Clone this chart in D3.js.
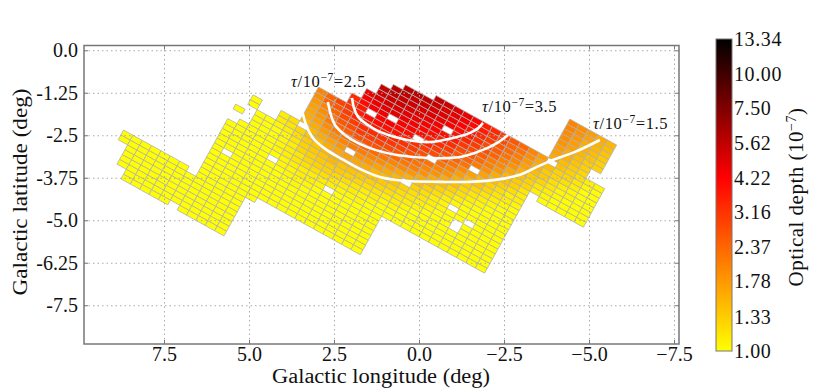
<!DOCTYPE html>
<html>
<head>
<meta charset="utf-8">
<script src="https://cdn.jsdelivr.net/npm/d3@7"></script>
<style>
	html, body { margin: 0; padding: 0; background: #fff; }
	svg { display: block; }
	text { font-family: 'Liberation Serif', serif; fill: #111; }
	.grid line { stroke: #aaa; stroke-dasharray: 1.5 3; }
	.grid path { display: none; }
	.marks line { stroke: #777; }
	.marks path { display: none; }
	.tick-labels text { font-size: 20px; }
	.bar-labels text { font-size: 20px; letter-spacing: 0.6px; }
</style>
</head>
<body>
<div id="canvas"></div>
<script>
// Tick labels
var lonTicks = [7.5, 5.0, 2.5, 0.0, -2.5, -5.0, -7.5],
	latTicks = [0.0, -1.25, -2.5, -3.75, -5.0, -6.25, -7.5],
	latTickLabels = ['0.0', '-1.25', '-2.5', '-3.75', '-5.0', '-6.25', '-7.5'],
	depthTicks = [1.00, 1.33, 1.78, 2.37, 3.16, 4.22, 5.62, 7.50, 10.00, 13.34];

// Optical depth per sub-field, one list per row of the tilted mosaic (null = no data)
var rowFirstCol = [0, 0, -1, -1, -1, -1, -2, -2, 6, 6, 6, 6, 6, 6, 6, 6, 6, 6, 6, 7, 8, 6, 8, 7, 7, 12, 12, 12, 12, 12, 12, 12, 15, 15, 16, 16, 17, 17, 18, 19, 22, 34, 34, 34, 34, 34, 34, 34, 34];
var rowDepths = [
	[1, 1, 1, 1, 1, null, 1, 1, 1, 1, 1],
	[1, 1, 1, 1, 1, 1, 1, 1, 1, 1, 1],
	[1, 1, 1, 1, 1, 1, 1, 1, 1, 1, 1, 1],
	[1, 1, 1, 1, 1, 1, 1, 1, 1, 1, 1, 1],
	[1, 1, 1, 1, 1, 1, 1, 1, 1, 1, 1, 1],
	[1, 1, 1, 1, 1, 1, 1, 1, 1, 1, 1, 1],
	[1, 1, 1, 1, 1, 1, 1, 1, 1, 1, 1, 1, 1],
	[1, 1, 1, 1, 1, 1, 1, null, 1, 1, 1, 1, 1],
	[1, 1, 1, 1, 1, 1],
	[1, 1, 1, 1, 1, 1, 1, 1, 1, 1, 1, 1, 1, 1, 1, 1, 1],
	[1, 1, 1, 1, 1, 1, 1, 1, 1, 1, 1, 1, 1, 1, 1, 1, 1],
	[1, 1, 1, 1, 1, 1, 1, 1, 1, 1, 1, 1, 1, 1, 1, 1, 1],
	[1, 1, 1, 1, 1, 1, 1, 1, 1, 1, 1, 1, 1, 1, 1, 1, 1],
	[1, null, 1, 1, 1, 1, 1, 1, 1, 1, 1, 1, 1, 1, 1, 1, 1],
	[1, 1, 1, 1, 1, 1, 1, 1, 1.05, 1, 1, 1, 1, 1, 1, 1, 1],
	[1, 1, 1, 1, 1, 1, 1, 1.05, 1.05, 1.05, 1, 1, 1, 1, 1, 1, 1],
	[1, 1, 1, 1, 1, null, 1.05, 1.05, 1.1, 1.1, 1.05, null, 1, 1, 1, 1, 1],
	[1, 1, 1, 1, 1, 1, 1.05, 1.1, 1.1, 1.1, 1.1, 1.1, 1.05, 1.05, 1.05, 1, 1, 1, 1, 1, 1, 1, 1, 1, 1, 1, 1, 1],
	[1, 1, 1, 1, 1, 1.05, 1.1, 1.15, 1.2, 1.2, 1.2, 1.15, 1.1, 1.1, 1.05, 1.05, 1, 1, 1, 1, 1, 1, 1, 1, 1, 1, 1, 1],
	[1, 1, 1, 1, 1.05, 1.1, 1.15, 1.25, 1.3, 1.3, 1.25, 1.2, 1.15, 1.1, 1.1, 1.05, 1.05, 1, 1, 1, 1, 1, 1, 1, 1, 1, 1],
	[1, 1, 1, 1.05, 1.1, 1.25, 1.3, 1.35, 1.35, 1.35, 1.3, 1.25, 1.2, 1.15, 1.1, 1.1, 1.05, 1, 1, 1, 1, 1, 1, 1, 1, 1],
	[1, null, 1, 1, 1, 1.05, 1.15, 1.3, 1.35, 1.4, 1.5, 1.4, 1.4, 1.35, 1.3, 1.25, 1.2, 1.15, 1.1, 1.05, 1, 1, 1, null, 1, 1, 1, 1],
	[1, 1, 1.05, 1.1, 1.2, 1.35, 1.4, 1.5, 1.55, 1.55, 1.5, 1.45, 1.4, 1.35, 1.3, 1.2, 1.15, 1.1, 1.05, 1, 1, null, 1, 1, 1, 1],
	[1, null, null, 1.1, 1.15, 1.25, 1.4, 1.5, 1.6, 1.65, 1.7, 1.65, 1.6, 1.5, 1.45, 1.4, 1.3, 1.2, 1.15, 1.1, 1.05, 1, 1, null, 1, 1, 1],
	[1, null, null, 1.1, 1.2, null, 1.5, 1.6, 1.7, 1.8, null, 1.85, 1.8, 1.7, 1.6, 1.5, null, 1.3, 1.2, 1.1, 1.05, null, 1, 1, 1, 1, 1],
	[1.5, 1.6, 1.75, 1.9, 2, 2.1, 2.1, 2, 1.9, 1.8, 1.65, 1.55, 1.45, 1.3, 1.2, 1.1, 1.05, 1, 1, 1, 1, 1],
	[1.6, 1.7, 1.9, 2.1, 2.2, 2.3, 2.4, 2.3, 2.15, 2, 1.95, 1.8, 1.6, 1.45, 1.3, 1.2, 1.1, 1.05, 1, 1, 1, 1],
	[1.65, 1.8, 2.1, 2.4, 2.5, 2.7, 2.7, 2.65, 2.5, 2.35, 2.15, 2.05, 1.85, 1.6, 1.45, 1.3, 1.2, 1.1, 1.05, 1, 1, 1],
	[1.7, 1.9, 2.2, 2.6, 2.75, 3, 3, 2.9, 2.8, 2.6, 2.4, 2.2, 2, 1.85, 1.6, 1.45, 1.25, 1.15, 1.1, 1.05, 1, 1],
	[1.8, 2, 2.4, 2.8, 3, 3.3, 3.3, 3.2, 3.1, 2.9, 2.7, 2.4, 2.2, 2, 1.85, 1.55, 1.35, 1.25, 1.15, 1.1, 1.05, 1],
	[1.9, 2.4, 2.6, 3, 3.4, 3.6, 3.7, 3.6, 3.4, 3.2, 3, 2.7, null, 2.2, 2, 1.75, 1.5, 1.4, 1.25, 1.15, 1.1, 1.05],
	[2, 2.4, 2.9, 3.1, 3.6, 3.9, 4, 3.9, 3.8, 3.5, 3.3, 3, 2.75, 2.45, 2.2, 1.95, 1.7, 1.5, 1.3, 1.2, 1.1, 1.1],
	[3.2, 3.7, null, 4.2, 4.3, 4, 3.9, null, 3.4, 3, 2.7, 2.4, 2.2, null, 1.7, 1.45, 1.3, 1.2, 1.1],
	[3.4, 4, 4.3, 4.5, null, 4.3, 4.1, 3.9, 3.6, 3.3, 3, 2.6, 2.4, 2.1, 1.9, 1.6, 1.4, 1.3, 1.15, null, 1, 1, 1, 1, 1],
	[4.3, 4.6, 4.8, 4.8, 4.6, 4.4, 4.1, 3.9, 3.6, 3.3, 2.8, 2.6, 2.3, 2.05, 1.8, 1.5, 1.35, 1.25, 1.1, 1.05, 1, 1, 1, 1],
	[4.6, 4.9, 5, 5, 4.8, 4.6, 4.4, 4.2, 3.9, 3.6, 3.1, 2.8, 2.5, 2.1, 1.95, 1.65, 1.4, 1.3, 1.15, 1.1, 1.05, 1, 1, 1],
	[5.2, 5.3, 5.3, 5, 4.8, 4.6, 4.4, null, 3.8, 3.4, 3, 2.7, 2.4, 2.05, 1.85, 1.55, 1.35, 1.25, 1.15, 1.05, 1.05, 1, 1],
	[5.5, 5.6, 5.5, 5.2, 5, 4.9, 4.6, 4.3, 4, 3.6, 3.2, 2.8, 2.5, 2.2, 2, 1.7, 1.45, 1.35, 1.2, 1.1, 1.05, 1, 1],
	[5.8, 5.7, 5.5, 5.3, 5.1, 4.9, 4.5, 4.2, 3.8, 3.4, 3, 2.6, 2.3, 2.1, 1.8, 1.55, 1.35, 1.25, 1.2, 1.1, 1, 1],
	[5.9, 5.7, 5.6, 5.3, 5, 4.7, 4.4, 4, 3.6, 3.2, 2.8, 2.4, 2.2, 1.9, 1.65, 1.45, 1.3, 1.25, 1.15, 1.05, 1],
	[5.5, 5.2, 4.9, 4.6, 4.2, 3.6, 3.4, 3, 2.6, 2.35, 2, 1.75, null, 1.4, 1.3, 1.2, 1.1, 1.05],
	[1.6, 1.45, 1.35, 1.25],
	[1.7, 1.55, 1.4, 1.3],
	[1.75, 1.6, 1.45, 1.35, 1.3],
	[1.85, 1.7, 1.5, 1.4, 1.3],
	[1.9, 1.75, 1.55, 1.45, 1.35],
	[1.95, 1.8, 1.6, 1.5, 1.4],
	[2, 1.85, 1.7, 1.55, 1.45],
	[2, 1.9, 1.75, 1.6, 1.5]
];

// Iso-depth curves, in galactic degrees
var curve15Lon = [3.44, 3.32, 3.12, 2.76, 2.32, 1.74, 1.15, 0.47, -0.62, -1.50, -2.38, -2.97, -3.41, -3.85, -4.59, -5.32],
	curve15Lat = [-1.76, -2.20, -2.58, -2.90, -3.17, -3.49, -3.73, -3.84, -3.87, -3.87, -3.79, -3.66, -3.46, -3.26, -2.99, -2.64],
	curve25Lon = [2.68, 2.59, 2.47, 2.18, 1.79, 1.29, 0.65, -0.32, -1.21, -1.88, -2.29, -2.62],
	curve25Lat = [-1.52, -1.90, -2.20, -2.49, -2.73, -2.93, -3.08, -3.17, -3.14, -2.93, -2.73, -2.49],
	curve35Lon = [1.97, 1.91, 1.79, 1.50, 1.15, 0.35, -0.32, -1.00, -1.50, -1.74, -1.88],
	curve35Lat = [-1.40, -1.70, -1.96, -2.20, -2.40, -2.64, -2.70, -2.58, -2.43, -2.29, -2.14];

// Mosaic layout in degrees: grid origin and steps along a row / across rows
var originLon = 8.765, originLat = -3.785,
	colStep = { lon: -0.2754, lat: -0.1523 },
	rowStep = { lon: -0.0783, lat: 0.1416 };

var width = 825, height = 390,
	plot = { left: 84, right: 679, top: 45.5, bottom: 344 },
	svg = d3.select('#canvas').append('svg').attr('width', width).attr('height', height);

var x = d3.scaleLinear().domain([9.853, -7.647]).range([plot.left, plot.right]),
	y = d3.scaleLinear().domain([0.14, -8.64]).range([plot.top, plot.bottom]),
	color = d3.scaleLog().domain([1, 4.22, 13.34]).range(['#ffff00', '#ff0000', '#000000']).clamp(true);

// Flatten rows to cells
var cells = [];
rowDepths.forEach(function(row, r) {
	row.forEach(function(depth, i) {
		if (depth !== null) cells.push({ r: r, c: rowFirstCol[r] + i, depth: depth });
	});
});

function cellPath(d) {
	var corners = [[0, 0], [1, 0], [1, 1], [0, 1]].map(function(k) {
		var c = d.c + k[0], r = d.r + k[1];
		return [
			x(originLon + c * colStep.lon + r * rowStep.lon),
			y(originLat + c * colStep.lat + r * rowStep.lat)
		];
	});
	return 'M' + corners.join('L') + 'Z';
}

svg.append('g').selectAll('path')
	.data(cells)
	.enter().append('path')
		.attr('d', cellPath)
		.attr('fill', function(d) { return color(d.depth); })
		.attr('stroke', '#b0b0b0')
		.attr('stroke-width', 0.8);

// Dotted grid
var gridX = svg.append('g').attr('class', 'grid')
	.attr('transform', 'translate(0,' + plot.bottom + ')')
	.call(d3.axisBottom(x).tickValues(lonTicks).tickSize(plot.top - plot.bottom));
gridX.selectAll('text').remove();
var gridY = svg.append('g').attr('class', 'grid')
	.attr('transform', 'translate(' + plot.left + ',0)')
	.call(d3.axisLeft(y).tickValues(latTicks).tickSize(plot.left - plot.right));
gridY.selectAll('text').remove();

// White iso-depth curves
var curveLine = d3.line()
	.x(function(d) { return x(d[0]); })
	.y(function(d) { return y(d[1]); })
	.curve(d3.curveCatmullRom);
[[curve15Lon, curve15Lat], [curve25Lon, curve25Lat], [curve35Lon, curve35Lat]].forEach(function(c) {
	svg.append('path')
		.attr('d', curveLine(d3.zip(c[0], c[1])))
		.attr('fill', 'none')
		.attr('stroke', '#fff')
		.attr('stroke-width', 2.6);
});

// Frame, inward tick marks and tick labels
svg.append('rect')
	.attr('x', plot.left).attr('y', plot.top)
	.attr('width', plot.right - plot.left).attr('height', plot.bottom - plot.top)
	.attr('fill', 'none').attr('stroke', '#777').attr('stroke-width', 1.5);

svg.append('g').attr('class', 'marks')
	.attr('transform', 'translate(0,' + plot.bottom + ')')
	.call(d3.axisBottom(x).tickValues(lonTicks).tickSize(-4))
	.selectAll('text').remove();
svg.append('g').attr('class', 'marks')
	.attr('transform', 'translate(0,' + plot.top + ')')
	.call(d3.axisTop(x).tickValues(lonTicks).tickSize(-4))
	.selectAll('text').remove();
svg.append('g').attr('class', 'marks')
	.attr('transform', 'translate(' + plot.left + ',0)')
	.call(d3.axisLeft(y).tickValues(latTicks).tickSize(-4))
	.selectAll('text').remove();
svg.append('g').attr('class', 'marks')
	.attr('transform', 'translate(' + plot.right + ',0)')
	.call(d3.axisRight(y).tickValues(latTicks).tickSize(-4))
	.selectAll('text').remove();

var xAxis = svg.append('g').attr('class', 'tick-labels')
	.attr('transform', 'translate(0,' + plot.bottom + ')')
	.call(d3.axisBottom(x).tickValues(lonTicks).tickSize(0).tickPadding(3).tickFormat(d3.format('.1f')));
xAxis.select('.domain').remove();

var yAxis = svg.append('g').attr('class', 'tick-labels')
	.attr('transform', 'translate(' + plot.left + ',0)')
	.call(d3.axisLeft(y).tickValues(latTicks).tickSize(0).tickPadding(6)
		.tickFormat(function(d, i) { return latTickLabels[i]; }));
yAxis.select('.domain').remove();

svg.append('text')
	.attr('x', 381).attr('y', 383)
	.attr('text-anchor', 'middle').style('font-size', '20px')
	.attr('textLength', 218).attr('lengthAdjust', 'spacingAndGlyphs')
	.text('Galactic longitude (deg)');
svg.append('text')
	.attr('transform', 'translate(27,192) rotate(-90)')
	.attr('text-anchor', 'middle').style('font-size', '20px')
	.attr('textLength', 207).attr('lengthAdjust', 'spacingAndGlyphs')
	.text('Galactic latitude (deg)');

// tau / 10^-7 labels
function depthLabel(px, py, value) {
	var t = svg.append('text').attr('x', px).attr('y', py)
		.style('font-size', '16.5px').style('letter-spacing', '0.6px');
	t.append('tspan').style('font-style', 'italic').text('τ');
	t.append('tspan').text('/10');
	t.append('tspan').attr('dy', -6).style('font-size', '11.5px').text('−7');
	t.append('tspan').attr('dy', 6).text('=' + value);
}
depthLabel(291, 87, '2.5');
depthLabel(482, 112, '3.5');
depthLabel(593, 129, '1.5');

// Colorbar
var bar = { left: 716, right: 732, top: 39, bottom: 351 },
	barY = d3.scaleLog().domain([1, 13.34]).range([bar.bottom, bar.top]),
	gradient = svg.append('defs').append('linearGradient')
		.attr('id', 'depth-gradient')
		.attr('x1', 0).attr('y1', 1).attr('x2', 0).attr('y2', 0);

depthTicks.forEach(function(t) {
	gradient.append('stop')
		.attr('offset', (bar.bottom - barY(t)) / (bar.bottom - bar.top))
		.attr('stop-color', color(t));
});

svg.append('rect')
	.attr('x', bar.left).attr('y', bar.top)
	.attr('width', bar.right - bar.left).attr('height', bar.bottom - bar.top)
	.attr('fill', 'url(#depth-gradient)')
	.attr('stroke', '#777').attr('stroke-width', 1);

var barAxis = svg.append('g').attr('class', 'bar-labels')
	.attr('transform', 'translate(' + bar.right + ',0)')
	.call(d3.axisRight(barY).tickValues(depthTicks).tickSize(0).tickPadding(2).tickFormat(d3.format('.2f')));
barAxis.select('.domain').remove();

var barLabel = svg.append('text')
	.attr('transform', 'translate(803,197) rotate(-90)')
	.attr('text-anchor', 'middle').style('font-size', '21px').style('letter-spacing', '0.5px');
barLabel.append('tspan').text('Optical depth (10');
barLabel.append('tspan').attr('dy', -7).style('font-size', '14px').text('−7');
barLabel.append('tspan').attr('dy', 7).text(')');
</script>
</body>
</html>
